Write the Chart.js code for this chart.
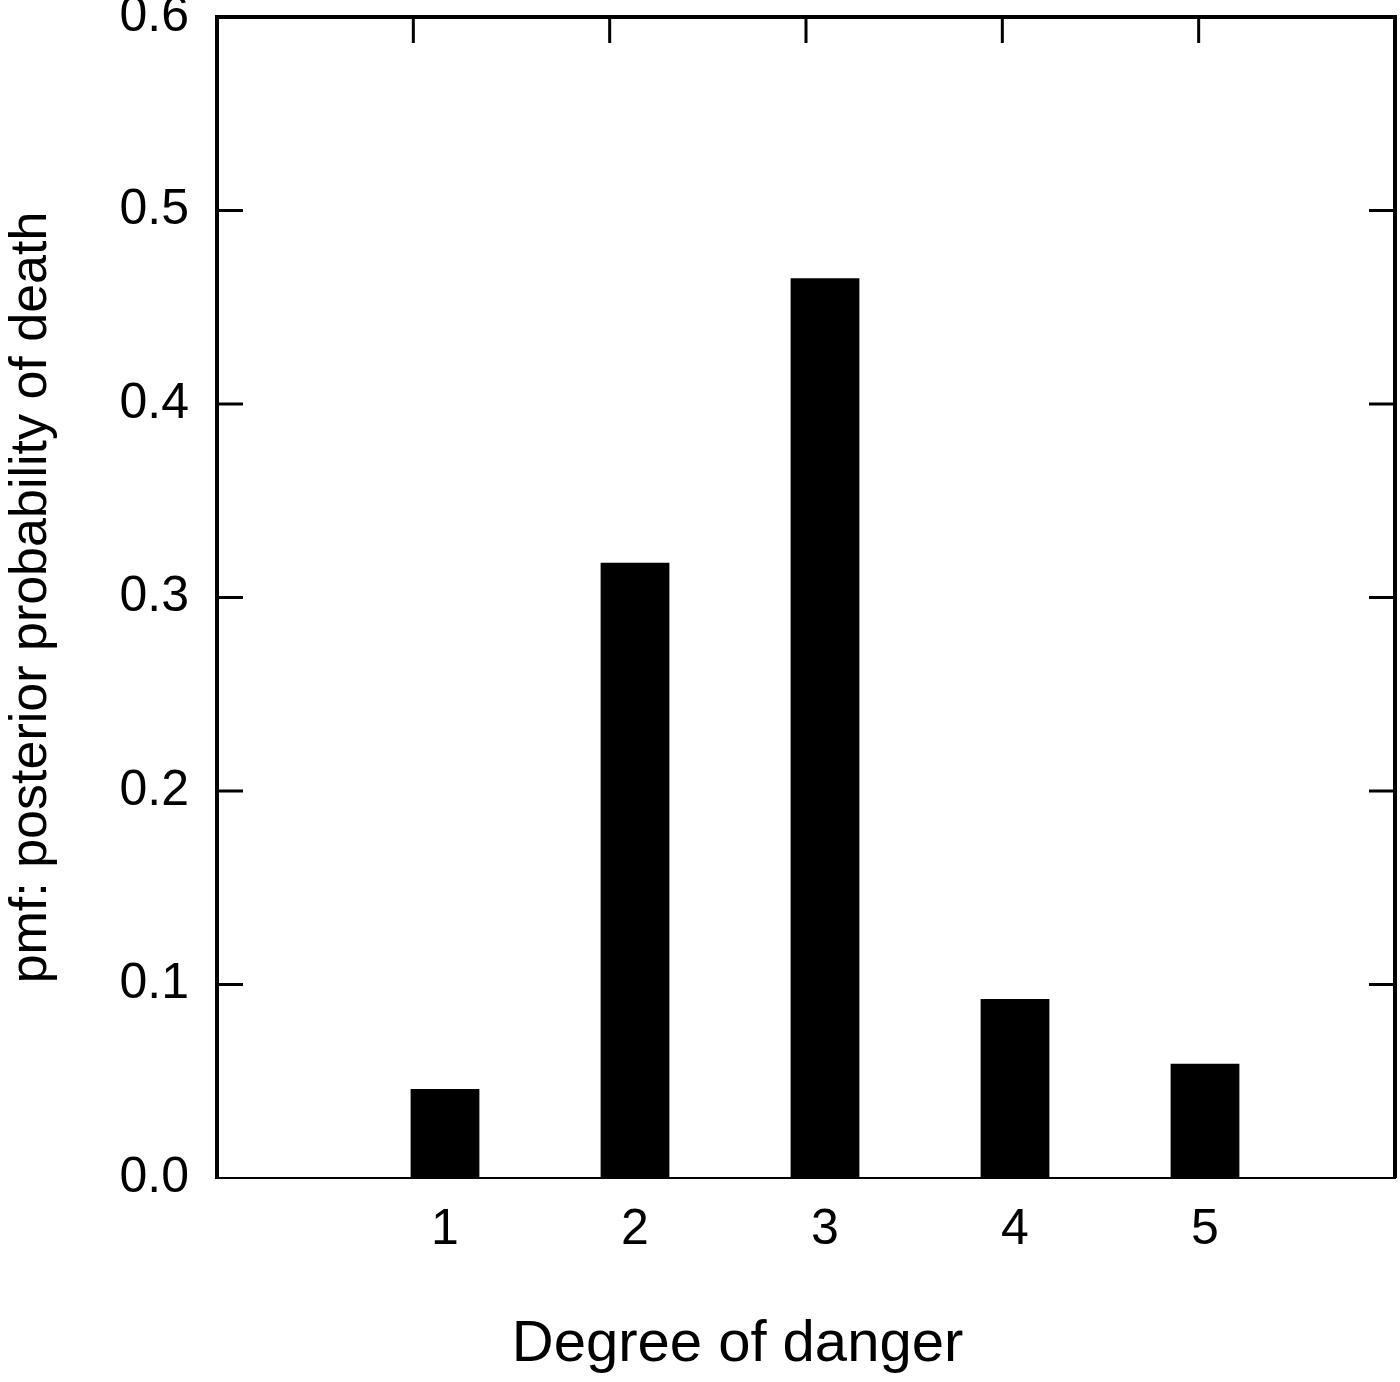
<!DOCTYPE html>
<html>
<head>
<meta charset="utf-8">
<script src="https://cdn.jsdelivr.net/npm/chart.js@4/dist/chart.umd.min.js"></script>
<style>
  body { margin: 0; background: #fff; }
  #wrap { width: 1400px; height: 1382px; }
</style>
</head>
<body>
<div id="wrap"><canvas id="chart"></canvas></div>
<script>
// values
const degrees = [1, 2, 3, 4, 5];
const pmf = [0.046, 0.318, 0.465, 0.0925, 0.059];
const yTicks = [0, 0.1, 0.2, 0.3, 0.4, 0.5, 0.6];
const topTicks = [1, 2, 3, 4, 5];

const FONT = "'Liberation Sans', Arial, Helvetica, sans-serif";

// inward tick marks on left / right / top, plus top & right frame lines
const frameTicks = {
    id: 'frameTicks',
    afterLayout(chart) {
        // the x title sits a bit right of the page centre in the original
        const tb = chart.titleBlock;
        if (tb) {
            tb.left += 40;
            tb.right += 40;
        }
    },
    afterDraw(chart) {
        const ctx = chart.ctx;
        const a = chart.chartArea;
        const y = chart.scales.y;
        const x2 = chart.scales.x2;
        ctx.save();
        ctx.strokeStyle = '#000';
        ctx.lineCap = 'butt';

        ctx.lineWidth = 4;
        ctx.beginPath();
        ctx.moveTo(a.left - 2, a.top);
        ctx.lineTo(a.right, a.top);
        ctx.lineTo(a.right, a.bottom);
        ctx.stroke();

        ctx.lineWidth = 3;
        ctx.beginPath();
        yTicks.forEach(v => {
            const py = y.getPixelForValue(v);
            if (py <= a.top + 2 || py >= a.bottom - 2) return;
            ctx.moveTo(a.left, py);
            ctx.lineTo(a.left + 26, py);
            ctx.moveTo(a.right, py);
            ctx.lineTo(a.right - 26, py);
        });
        topTicks.forEach(v => {
            const px = x2.getPixelForValue(v);
            ctx.moveTo(px, a.top);
            ctx.lineTo(px, a.top + 26);
        });
        ctx.stroke();
        ctx.restore();
    }
};

const ctx = document.getElementById('chart').getContext('2d');

const myChart = new Chart(ctx, {
    type: 'bar',
    data: {
        datasets: [{
            data: degrees.map((d, i) => ({ x: d, y: pmf[i] })),
            backgroundColor: '#000',
            borderWidth: 0,
            barPercentage: 0.362,
            categoryPercentage: 1,
            xAxisID: 'x',
            yAxisID: 'y'
        }]
    },
    options: {
        responsive: true,
        maintainAspectRatio: false,
        animation: false,
        layout: { padding: { top: 17, right: 5, left: 0, bottom: 0 } },
        plugins: {
            legend: { display: false },
            tooltip: { enabled: false },
            title: {
                display: true,
                position: 'bottom',
                text: 'Degree of danger',
                color: '#000',
                font: { family: FONT, size: 58, weight: 'normal', lineHeight: 1.2 },
                padding: { top: 0, bottom: 2 }
            }
        },
        scales: {
            x: {
                type: 'linear',
                position: 'bottom',
                offset: false,
                min: -0.2,
                max: 6,
                afterBuildTicks: (scale) => {
                    scale.ticks = degrees.map(v => ({ value: v }));
                },
                afterFit: (scale) => {
                    scale.height = 132.4;
                    scale.paddingLeft = 0;
                    scale.paddingRight = 0;
                },
                grid: { display: false, drawTicks: false, offset: false },
                border: { display: true, color: '#000', width: 2 },
                ticks: {
                    color: '#000',
                    padding: 22,
                    font: { family: FONT, size: 50 },
                    callback: (value) => String(value)
                }
            },
            x2: {
                type: 'linear',
                position: 'top',
                offset: false,
                min: 0,
                max: 6,
                afterBuildTicks: (scale) => {
                    scale.ticks = topTicks.map(v => ({ value: v }));
                },
                afterFit: (scale) => {
                    scale.height = 0;
                    scale.paddingLeft = 0;
                    scale.paddingRight = 0;
                },
                grid: { display: false, drawTicks: false, offset: false },
                border: { display: false },
                ticks: { display: false }
            },
            y: {
                type: 'linear',
                position: 'left',
                min: 0,
                max: 0.6,
                afterBuildTicks: (scale) => {
                    scale.ticks = yTicks.map(v => ({ value: v }));
                },
                afterFit: (scale) => {
                    scale.width = 217;
                    scale.paddingTop = 0;
                    scale.paddingBottom = 0;
                },
                grid: { display: false, drawTicks: false },
                border: { display: true, color: '#000', width: 4 },
                ticks: {
                    color: '#000',
                    padding: 28,
                    font: { family: FONT, size: 50 },
                    callback: (value) => value.toFixed(1)
                },
                title: {
                    display: true,
                    text: 'pmf: posterior probability of death',
                    color: '#000',
                    font: { family: FONT, size: 52 },
                    padding: 0
                }
            }
        }
    },
    plugins: [frameTicks]
});
</script>
</body>
</html>
